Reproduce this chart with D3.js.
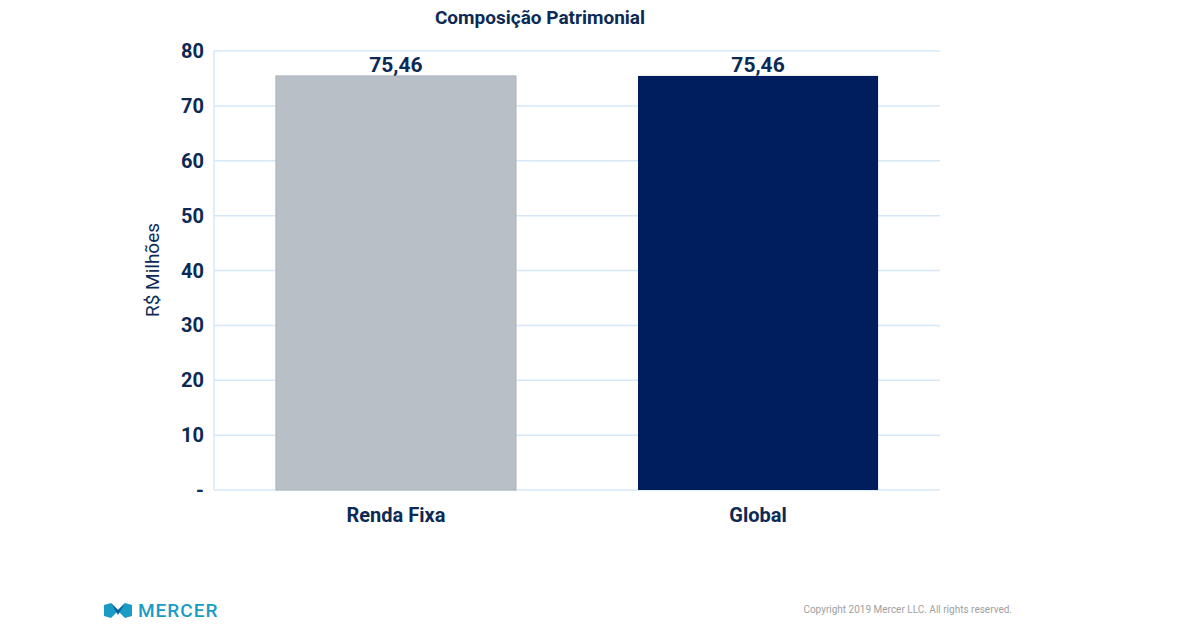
<!DOCTYPE html>
<html><head><meta charset="utf-8">
<script src="https://cdnjs.cloudflare.com/ajax/libs/d3/7.8.5/d3.min.js"></script>
<style>body{margin:0;background:#fff}text{font-family:Roboto,"Open Sans",sans-serif}</style>
</head><body><svg id="c" width="1185" height="635"></svg>
<script>
var categories = ["Renda Fixa", "Global"];
var values = [75.46, 75.46];
var barColors = ["#b8bfc7", "#001e5e"];
var yTicks = [0, 10, 20, 30, 40, 50, 60, 70, 80];

var svg = d3.select("#c");
var plotLeft = 214, plotRight = 940, plotTop = 51, plotBottom = 490;
var navy = "#0c2a55";

var x = d3.scaleBand().domain(categories).range([plotLeft, plotRight]).paddingInner(0.337).paddingOuter(0.171);
var y = d3.scaleLinear().domain([0, 80]).range([plotBottom, plotTop]);

// grid
svg.selectAll(".grid").data(yTicks).enter().append("line")
    .attr("x1", plotLeft).attr("x2", plotRight)
    .attr("y1", function(d) { return y(d); }).attr("y2", function(d) { return y(d); })
    .attr("stroke", "#d6e8f7").attr("stroke-width", 1.5);
svg.append("line").attr("x1", plotLeft).attr("x2", plotLeft).attr("y1", plotTop).attr("y2", plotBottom)
    .attr("stroke", "#d6e8f7").attr("stroke-width", 1.5);

svg.selectAll(".ytick").data(yTicks).enter().append("text")
    .attr("x", 204).attr("y", function(d) { return y(d) + 7; })
    .attr("text-anchor", "end").attr("font-size", 20).attr("font-weight", "bold").attr("fill", navy)
    .text(function(d) { return d === 0 ? "-" : d; });

svg.selectAll(".bar").data(values).enter().append("rect")
    .attr("x", function(d, i) { return x(categories[i]); })
    .attr("width", x.bandwidth())
    .attr("y", function(d) { return y(d); })
    .attr("height", function(d) { return y(0) - y(d); })
    .attr("fill", function(d, i) { return barColors[i]; })
    .attr("stroke", function(d, i) { return i === 0 ? "#aab2bb" : "none"; });

svg.selectAll(".val").data(values).enter().append("text")
    .attr("x", function(d, i) { return x(categories[i]) + x.bandwidth() / 2; })
    .attr("y", function(d) { return y(d) - 4; })
    .attr("text-anchor", "middle").attr("font-size", 21).attr("font-weight", "bold").attr("fill", navy)
    .text(function(d) { return d.toFixed(2).replace(".", ","); });

svg.selectAll(".cat").data(categories).enter().append("text")
    .attr("x", function(d) { return x(d) + x.bandwidth() / 2; })
    .attr("y", 522).attr("text-anchor", "middle").attr("font-size", 20).attr("font-weight", "bold").attr("fill", navy)
    .text(function(d) { return d; });

svg.append("text").attr("x", 540).attr("y", 24).attr("text-anchor", "middle")
    .attr("font-size", 19).attr("font-weight", "bold").attr("fill", navy).text("Composição Patrimonial");

svg.append("text").attr("transform", "translate(159,270) rotate(-90)").attr("text-anchor", "middle")
    .attr("font-size", 19).attr("fill", navy).text("R$ Milhões");

// footer
var logo = svg.append("g").attr("transform", "translate(104,603)");
logo.append("path").attr("d", "M0,2 L7,0 L14,7 L21,0 L28,2 L28,13 L21,15 L14,8 L7,15 L0,13 Z").attr("fill", "#1a9bc4");
logo.append("path").attr("d", "M7,0 L14,7 L21,0 L14,12 Z").attr("fill", "#0b5fa0");
svg.append("text").attr("x", 138).attr("y", 617).attr("font-size", 19).attr("font-weight", 500)
    .attr("letter-spacing", 1).attr("fill", "#1a9bc4").text("MERCER");
svg.append("text").attr("x", 1012).attr("y", 613).attr("text-anchor", "end").attr("font-size", 10)
    .attr("fill", "#a0a0a0").text("Copyright 2019 Mercer LLC. All rights reserved.");
</script></body></html>
